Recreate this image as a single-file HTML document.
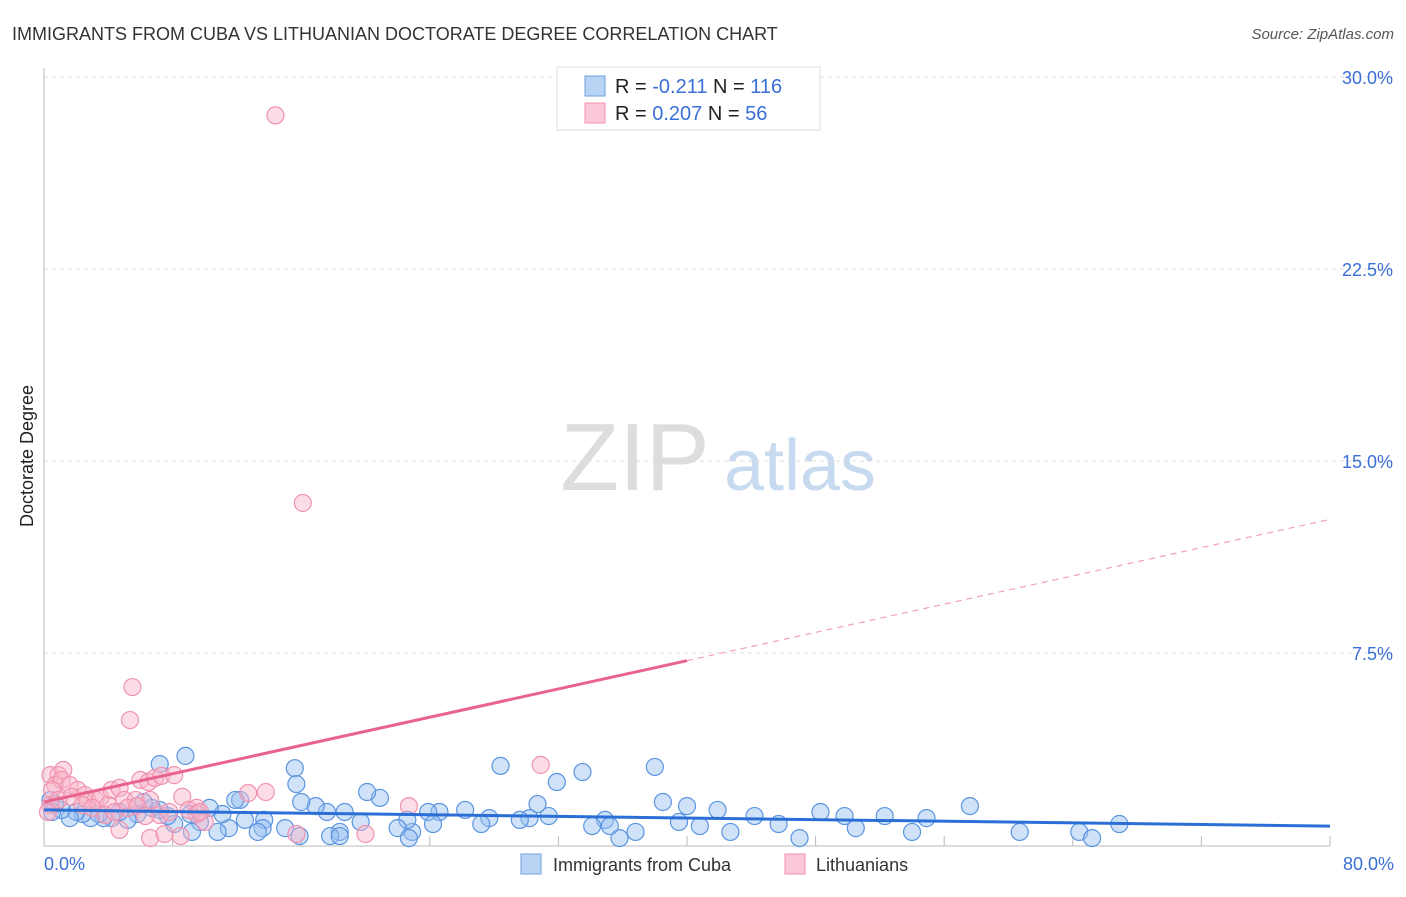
<!DOCTYPE html>
<html><head><meta charset="utf-8"><style>
body{margin:0;background:#fff;font-family:"Liberation Sans",sans-serif}
svg text{font-family:"Liberation Sans",sans-serif}
</style></head><body>
<svg id="c" width="1406" height="892" xmlns="http://www.w3.org/2000/svg">
<text x="12" y="40" font-size="18" fill="#333">IMMIGRANTS FROM CUBA VS LITHUANIAN DOCTORATE DEGREE CORRELATION CHART</text>
<text x="1394" y="39" font-size="15" fill="#555" font-style="italic" text-anchor="end">Source: ZipAtlas.com</text>
<text x="33" y="456" font-size="18" fill="#222" text-anchor="middle" transform="rotate(-90 33 456)">Doctorate Degree</text>
<g><text x="635" y="490" font-size="96" fill="#ddd" font-family="Liberation Serif" text-anchor="middle">ZIP</text><text x="800" y="490" font-size="72" fill="#c8daf0" text-anchor="middle">atlas</text></g>
<g id="grid"></g><g id="pts"></g><g id="lines"></g>
<g>
<rect x="557" y="67" width="263" height="63" fill="#fff" stroke="#ddd"/>
<rect x="585" y="76" width="20" height="20" fill="#b9d3f5" stroke="#6fa0e0"/>
<rect x="585" y="103" width="20" height="20" fill="#fbc8d7" stroke="#f091ae"/>
<text x="615" y="93" font-size="20" fill="#222">R = <tspan fill="#3a6fd6">-0.211</tspan>   N = <tspan fill="#3a6fd6">116</tspan></text>
<text x="615" y="120" font-size="20" fill="#222">R = <tspan fill="#3a6fd6">0.207</tspan>    N = <tspan fill="#3a6fd6"> 56</tspan></text>
</g>
<g>
<rect x="521" y="854" width="20" height="20" fill="#b9d3f5" stroke="#6fa0e0"/>
<text x="553" y="871" font-size="18" fill="#333">Immigrants from Cuba</text>
<rect x="785" y="854" width="20" height="20" fill="#fbc8d7" stroke="#f091ae"/>
<text x="816" y="871" font-size="18" fill="#333">Lithuanians</text>
</g>
</svg>
<script>
const yTicks=[7.5,15,22.5,30];
const yTickLabels=["7.5%","15.0%","22.5%","30.0%"];
const xTickLabels=["0.0%","80.0%"];
const blueX=[7.2,8.8,15.6,15.7,28.4,31.9,33.5,38.0,57.6,66.9,64.4,60.7,65.2,54.0,54.9,52.3,50.5,49.8,48.3,47.0,45.7,44.2,42.7,41.9,40.8,40.0,39.5,38.5,36.8,35.8,34.9,34.1,31.4,30.7,30.2,29.6,27.7,27.2,26.2,24.6,23.9,24.2,22.9,22.6,22.0,20.9,20.1,19.7,18.7,18.4,17.8,17.6,16.9,16.0,15.0,13.7,13.6,13.3,12.5,12.2,11.9,11.5,11.1,10.8,10.3,9.7,9.2,9.1,8.1,7.7,7.2,6.7,6.2,5.8,5.2,4.7,4.2,3.7,3.4,2.9,2.4,2.0,1.6,1.1,0.7,0.4,0.5,15.9,22.7,18.4,35.2];
const blueY=[3.16,3.48,3.0,2.38,3.09,2.46,2.85,3.05,1.52,0.82,0.51,0.51,0.27,0.51,1.05,1.13,0.66,1.13,1.29,0.27,0.82,1.13,0.51,1.37,0.74,1.52,0.9,1.68,0.51,0.27,0.98,0.74,1.13,1.6,1.05,0.98,1.05,0.82,1.37,1.29,1.29,0.82,0.51,0.98,0.66,1.84,2.07,0.9,1.29,0.51,0.35,1.29,1.52,1.68,0.66,0.98,0.66,0.51,0.98,1.76,1.76,0.66,1.21,0.51,1.45,0.9,0.51,1.21,0.82,1.13,1.37,1.45,1.68,1.21,0.98,1.29,1.05,1.05,1.21,1.05,1.21,1.29,1.05,1.37,1.6,1.76,1.29,0.35,0.27,0.35,0.74];
const pinkX=[14.4,16.1,5.5,5.35,30.9,0.4,0.9,1.2,0.7,1.1,1.6,2.1,2.55,1.7,2.7,3.2,3.5,4.0,4.2,4.7,5.0,6.0,6.5,6.9,7.3,8.1,5.7,6.6,7.2,7.8,8.6,9.5,10.0,9.0,12.7,13.8,4.7,6.6,7.5,8.5,15.7,20.0,22.7,9.5,0.4,0.25,0.5,2.4,3.0,0.9,3.8,4.4,5.2,5.8,6.3,9.7];
const pinkY=[28.5,13.36,6.17,4.88,3.13,2.73,2.73,2.93,2.34,2.54,2.34,2.15,1.95,1.88,1.76,1.76,1.84,1.56,2.15,2.23,1.76,2.54,2.46,2.62,2.7,2.73,1.76,1.76,1.17,1.29,1.88,1.45,0.9,1.37,2.03,2.07,0.59,0.27,0.43,0.35,0.43,0.43,1.52,1.21,1.56,1.29,2.15,1.56,1.45,1.76,1.17,1.29,1.45,1.52,1.13,1.29];
const blueTrend=[1.37,-0.0079];
const pinkTrend=[1.68,0.138];
const NS='http://www.w3.org/2000/svg';
const X=v=>44+v*(1286/80), Y=v=>845-v*25.6;
function mk(t,a,p){const e=document.createElementNS(NS,t);for(const k in a)e.setAttribute(k,a[k]);p.appendChild(e);return e;}
const g=document.getElementById('grid');
yTicks.forEach((t,i)=>{
 const l=mk('line',{x1:44,x2:1395,y1:Y(t),y2:Y(t),stroke:'#ddd','stroke-dasharray':'4,4'},g);
 
 
 const tx=mk('text',{x:1393,y:Y(t)+7,'font-size':18,fill:'#3a6fd6','text-anchor':'end'},g);
 tx.textContent=yTickLabels[i];
 
 
});
const ax=mk('line',{x1:44,x2:44,y1:68,y2:846,stroke:'#bbb'},g);


const bx=mk('line',{x1:44,x2:1330,y1:846,y2:846,stroke:'#bbb'},g);


for(let i=1;i<=10;i++){const t=mk('line',{x1:X(i*8),x2:X(i*8),y1:836,y2:846,stroke:'#bbb'},g);
 
 }
[[0,'start',44],[80,'end',1394]].forEach((d,i)=>{const t=mk('text',{x:d[2],y:870,'font-size':18,fill:'#3a6fd6','text-anchor':d[1]},g);t.textContent=xTickLabels[i];
 
 });
const p=document.getElementById('pts');
blueX.forEach((x,i)=>{const c=mk('circle',{cx:X(x),cy:Y(blueY[i]),r:8.5,fill:'rgba(150,190,240,0.45)',stroke:'#5b95e0','stroke-width':1.2},p);
 
 });
pinkX.forEach((x,i)=>{const c=mk('circle',{cx:X(x),cy:Y(pinkY[i]),r:8.5,fill:'rgba(248,180,200,0.45)',stroke:'#f093b0','stroke-width':1.2},p);
 
 });
const L=document.getElementById('lines');
const b=mk('line',{x1:X(0),y1:Y(blueTrend[0]),x2:X(80),y2:Y(blueTrend[0]+80*blueTrend[1]),stroke:'#2b6fd6','stroke-width':3},L);


const ps=mk('line',{x1:X(0),y1:Y(pinkTrend[0]),x2:X(40),y2:Y(pinkTrend[0]+40*pinkTrend[1]),stroke:'#e8648e','stroke-width':3},L);


const pd=mk('line',{x1:X(40),y1:Y(pinkTrend[0]+40*pinkTrend[1]),x2:X(80),y2:Y(pinkTrend[0]+80*pinkTrend[1]),stroke:'#f0a0b8','stroke-width':1.2,'stroke-dasharray':'6,5'},L);


</script>
</body></html>
